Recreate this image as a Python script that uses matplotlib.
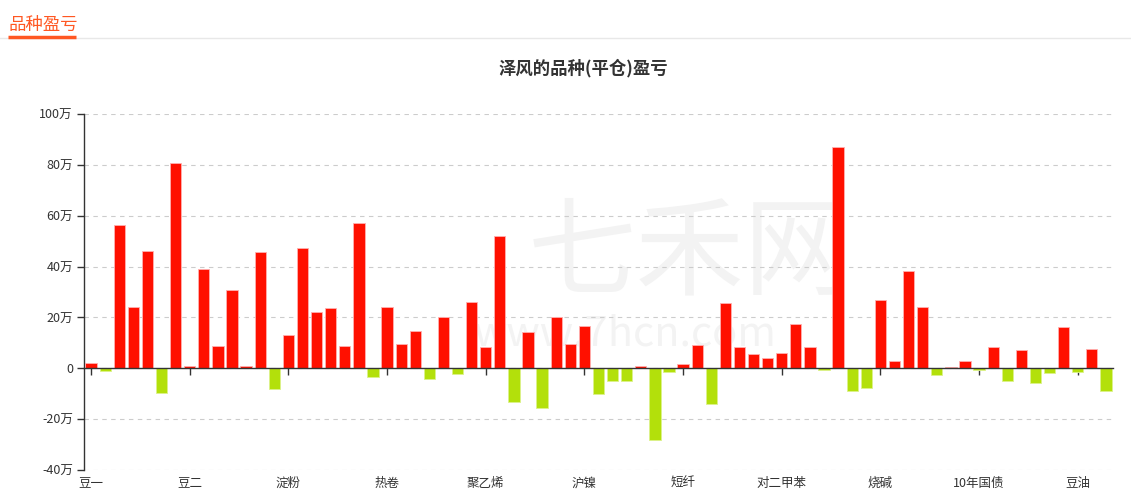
import matplotlib
matplotlib.use("Agg")
import matplotlib.pyplot as plt
import matplotlib.transforms as mtransforms
import numpy as np

plt.rcParams['font.family'] = ['Noto Sans CJK SC', 'DejaVu Sans']

# profit / loss per variety, unit: 万 (10k)
values = [
    2.0, -1.0, 56.4, 24.1, 46.2, -9.9, 80.8,
    0.8, 39.1, 8.9, 30.8, 0.9, 45.7, -8.2,
    13.0, 47.5, 22.1, 23.8, 8.8, 57.1, -3.3,
    24.2, 9.5, 14.5, -4.2, 20.0, -2.1, 26.1,
    8.2, 52.1, -13.2, 14.2, -15.8, 20.0, 9.6,
    16.6, -10.0, -5.0, -5.0, 0.8, -28.2, -1.4,
    1.6, 9.2, -14.2, 25.7, 8.2, 5.8, 3.9,
    5.9, 17.4, 8.4, -0.5, 86.9, -9.1, -7.6,
    26.7, 2.8, 38.2, 24.1, -2.5, 0.4, 2.8,
    -0.8, 8.2, -5.0, 7.0, -5.7, -1.7, 16.1,
    -1.3, 7.5, -8.8,
]
# labels shown on the axis (every 7th variety)
shown_labels = ['豆一', '豆二', '淀粉', '热卷', '聚乙烯', '沪镍', '短纤',
                '对二甲苯', '烧碱', '10年国债', '豆油']
label_step = 7
y_ticks = [-40, -20, 0, 20, 40, 60, 80, 100]
y_tick_labels = ['-40万', '-20万', '0', '20万', '40万', '60万', '80万', '100万']

title = '泽风的品种(平仓)盈亏'
header = '品种盈亏'

W, H = 1131, 504
fig = plt.figure(figsize=(W / 100, H / 100), dpi=100)
fig.patch.set_facecolor('white')

# header and separator
fig.text(8 / W, 1 - 25 / H, header, color='#ff5722', fontsize=12.5,
         ha='left', va='center')
fig.add_artist(plt.Line2D([0, 1], [1 - 37.5 / H, 1 - 37.5 / H],
                          transform=fig.transFigure, color='#e8e8e8', lw=1))
fig.add_artist(plt.Line2D([8 / W, 76 / W], [1 - 37 / H, 1 - 37 / H],
                          transform=fig.transFigure, color='#ff5722', lw=2.5,
                          solid_capstyle='butt'))

fig.text(583 / W, 1 - 68 / H, title, color='#333333', fontsize=12.5,
         fontweight='bold', ha='center', va='center')

left, right, top, bottom = 84, 1113, 114, 470
ax = fig.add_axes([left / W, 1 - bottom / H, (right - left) / W, (bottom - top) / H])
ax.set_facecolor('none')

# watermark (behind grid and bars)
ax.text(690 / W, 1 - 256 / H, '七禾网', color='#f3f3f3', fontsize=78,
        ha='center', va='center', zorder=0.1, transform=fig.transFigure)
ax.text(625 / W, 1 - 334 / H, 'www.7hcn.com', color='#f3f3f3', fontsize=30,
        ha='center', va='center', zorder=0.1, transform=fig.transFigure)

x = np.arange(len(values))
vals = np.array(values)
colors = np.where(vals >= 0, '#ff1000', '#b3e00b')
edges = np.where(vals >= 0, '#ffb0b0', '#dcf28a')
ax.bar(x, vals, width=0.8, color=colors, edgecolor=edges, linewidth=0.6, zorder=3)

ax.set_xlim(-0.5, len(values) - 0.5)
ax.set_ylim(-40, 100)

ax.set_yticks(y_ticks)
ax.set_yticklabels(y_tick_labels)
ax.tick_params(axis='y', length=5, width=1, color='#333333', labelcolor='#333333',
               labelsize=9, pad=3)
ax.yaxis.grid(True, linestyle=(0, (4, 4)), color='#cccccc', linewidth=0.8, zorder=0.5)
ax.set_axisbelow(True)

for s in ['top', 'right']:
    ax.spines[s].set_visible(False)
ax.spines['left'].set_color('#333333')
ax.spines['left'].set_linewidth(1)
ax.spines['bottom'].set_position(('data', 0))
ax.spines['bottom'].set_color('#333333')
ax.spines['bottom'].set_linewidth(1)
ax.spines['bottom'].set_zorder(4)

tick_pos = x[::label_step]
ax.set_xticks(tick_pos)
ax.set_xticklabels([''] * len(tick_pos))
ax.tick_params(axis='x', length=5, width=1, color='#333333', direction='out')

trans = mtransforms.blended_transform_factory(ax.transData, ax.transAxes)
for pos, lab in zip(tick_pos, shown_labels):
    ax.text(pos, -13 / (bottom - top), lab, transform=trans, ha='center', va='center',
            fontsize=9, color='#333333')

fig.savefig('out.png', dpi=100, facecolor='white')
